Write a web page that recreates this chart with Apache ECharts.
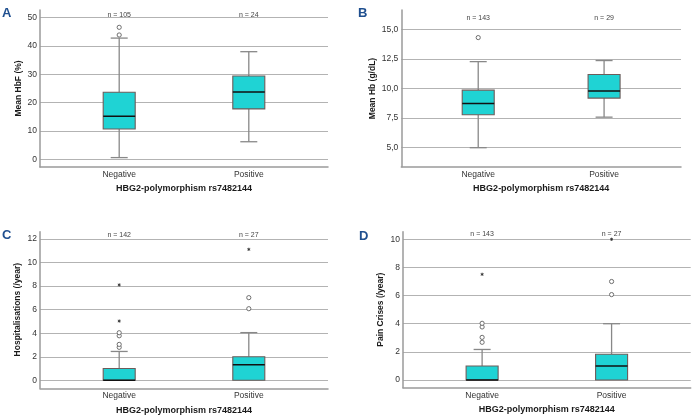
<!DOCTYPE html>
<html><head><meta charset="utf-8">
<script src="https://cdn.jsdelivr.net/npm/echarts@6/dist/echarts.min.js"></script>
<style>html,body{margin:0;padding:0;background:#fff}#c{width:696px;height:417px}</style>
</head><body><div id="c"></div>
<script>
// ---------- data ----------
var categories = ['Negative', 'Positive'];
var xAxisTitle = 'HBG2-polymorphism rs7482144';
// [min, Q1, median, Q3, max]
var hbfNeg = [0.6, 10.7, 15.2, 23.7, 42.8];
var hbfPos = [6.2, 17.8, 23.8, 29.4, 38.0];
var hbfNegCircles = [43.9, 46.6];
var hbfN = [105, 24];

var hbNeg = [5.0, 7.78, 8.73, 9.86, 12.27];
var hbPos = [7.58, 9.19, 9.78, 11.18, 12.36];
var hbNegCircles = [14.3];
var hbN = [143, 29];

var hospNeg = [0, 0, 0, 1.0, 2.45];
var hospPos = [0, 0, 1.33, 2.0, 4.05];
var hospNegCircles = [2.8, 3.05, 3.78, 4.04];
var hospNegStars = [5.03, 8.1];
var hospPosCircles = [6.08, 7.02];
var hospPosStars = [11.12];
var hospN = [142, 27];

var painNeg = [0, 0, 0, 1.0, 2.17];
var painPos = [0, 0, 1.0, 1.83, 4.0];
var painNegCircles = [2.68, 3.03, 3.77, 4.03];
var painNegStars = [7.51];
var painPosCircles = [6.07, 7.0];
var painPosStars = [10.0];
var painN = [143, 27];

var yTicksA = [0, 50, 10];
var yTicksB = [5, 15, 2.5];
var yTicksC = [0, 12, 2];
var yTicksD = [0, 10, 2];

// ---------- build ----------
var panels = [
  {letter:'A', yName:'Mean HbF (%)', boxes:[hbfNeg, hbfPos], circles:[hbfNegCircles, []], stars:[[],[]], n:hbfN, ticks:yTicksA, comma:false,
   frame:{left:40, top:10, width:288, height:157}, vTop:17.7, vBottom:159.3, nOff:3, nameGap:17, letterPos:[2,7]},
  {letter:'B', yName:'Mean Hb (g/dL)', boxes:[hbNeg, hbPos], circles:[hbNegCircles, []], stars:[[],[]], n:hbN, ticks:yTicksB, comma:true,
   frame:{left:401.3, top:10, width:279.7, height:156.7}, vTop:29.3, vBottom:147.7, nOff:11, nameGap:24, letterPos:[358,7]},
  {letter:'C', yName:'Hospitalisations (/year)', boxes:[hospNeg, hospPos], circles:[hospNegCircles, hospPosCircles], stars:[hospNegStars, hospPosStars], n:hospN, ticks:yTicksC, comma:false,
   frame:{left:40, top:231.7, width:288, height:156.6}, vTop:239, vBottom:380.3, nOff:3.7, nameGap:18, letterPos:[2,229]},
  {letter:'D', yName:'Pain Crises (/year)', boxes:[painNeg, painPos], circles:[painNegCircles, painPosCircles], stars:[painNegStars, painPosStars], n:painN, ticks:yTicksD, comma:false,
   frame:{left:403, top:231.7, width:287.7, height:156}, vTop:239.3, vBottom:380, nOff:5.3, nameGap:18, letterPos:[359,230]}
];

var FONT = 'Liberation Sans, Arial, sans-serif';
var grids = [], xAxes = [], yAxes = [], series = [], graphics = [];
var AX = '#9a9a9a';

panels.forEach(function (p, k) {
  var f = p.frame;
  var gF = k*3, gV = k*3+1, gL = k*3+2;
  grids.push({left:f.left, top:f.top, width:f.width, height:f.height});
  grids.push({left:f.left, top:p.vTop, width:f.width, height:p.vBottom - p.vTop});
  grids.push({left:f.left + 0.05*f.width, top:f.top, width:0.9*f.width, height:f.height});

  xAxes.push({gridIndex:gF, type:'value', min:0, max:1, axisLine:{show:true, lineStyle:{color:AX, width:1.5}}, axisTick:{show:false}, axisLabel:{show:false}, splitLine:{show:false}});
  yAxes.push({gridIndex:gF, type:'value', min:0, max:1, axisLine:{show:true, lineStyle:{color:AX, width:1.5}}, axisTick:{show:false}, axisLabel:{show:false}, splitLine:{show:false}});
  xAxes.push({gridIndex:gV, type:'value', min:-0.6111, max:1.6111, show:false});
  yAxes.push({gridIndex:gV, type:'value', min:p.ticks[0], max:p.ticks[1], interval:p.ticks[2],
    axisLine:{show:false}, axisTick:{show:false},
    axisLabel:{margin:3, fontFamily:FONT, fontSize:8.5, color:'#333',
      formatter: p.comma ? function(v){return v.toFixed(1).replace('.', ',');} : function(v){return String(v);}},
    splitLine:{show:true, lineStyle:{color:'#b3b3b3', width:1.2}},
    name:p.yName, nameLocation:'middle', nameGap:p.nameGap,
    nameTextStyle:{fontFamily:FONT, fontSize:8.5, fontWeight:'bold', color:'#1a1a1a'}});
  xAxes.push({gridIndex:gL, type:'category', data:categories, axisLine:{show:false}, axisTick:{show:false},
    axisLabel:{margin:3, fontFamily:FONT, fontSize:8.5, color:'#333'},
    name:xAxisTitle, nameLocation:'middle', nameGap:17.5,
    nameTextStyle:{fontFamily:FONT, fontSize:9, fontWeight:'bold', color:'#1a1a1a'}});
  yAxes.push({gridIndex:gL, type:'value', min:0, max:1, show:false});

  var xi = k*3+1, yi = k*3+1;
  series.push({type:'custom', xAxisIndex:xi, yAxisIndex:yi, z:3,
    data:p.boxes.map(function(b,i){return [i].concat(b);}),
    renderItem:function(params, api){
      var i = api.value(0);
      var pMin = api.coord([i, api.value(1)]), pQ1 = api.coord([i, api.value(2)]),
          pMed = api.coord([i, api.value(3)]), pQ3 = api.coord([i, api.value(4)]),
          pMax = api.coord([i, api.value(5)]);
      var x = pMed[0], hw = 16, cw = 8.5;
      var wl = {stroke:'#888', lineWidth:1.3};
      var ch = [];
      if (api.value(5) > api.value(4)) {
        ch.push({type:'line', shape:{x1:x, y1:pQ3[1], x2:x, y2:pMax[1]}, style:wl});
        ch.push({type:'line', shape:{x1:x-cw, y1:pMax[1], x2:x+cw, y2:pMax[1]}, style:wl});
      }
      if (api.value(1) < api.value(2)) {
        ch.push({type:'line', shape:{x1:x, y1:pQ1[1], x2:x, y2:pMin[1]}, style:wl});
        ch.push({type:'line', shape:{x1:x-cw, y1:pMin[1], x2:x+cw, y2:pMin[1]}, style:wl});
      }
      ch.push({type:'rect', shape:{x:x-hw, y:pQ3[1], width:2*hw, height:pQ1[1]-pQ3[1]},
        style:{fill:'#1fd3d4', stroke:'#6e5c5a', lineWidth:1.1}});
      ch.push({type:'line', shape:{x1:x-hw, y1:pMed[1], x2:x+hw, y2:pMed[1]}, style:{stroke:'#111', lineWidth:1.5}});
      return {type:'group', children:ch};
    }});
  var outData = [];
  p.circles.forEach(function(arr,i){arr.forEach(function(v){outData.push([i, v, 0]);});});
  p.stars.forEach(function(arr,i){arr.forEach(function(v){outData.push([i, v, 1]);});});
  series.push({type:'custom', xAxisIndex:xi, yAxisIndex:yi, z:4, data:outData,
    renderItem:function(params, api){
      var pt = api.coord([api.value(0), api.value(1)]);
      if (api.value(2) === 0) {
        return {type:'circle', shape:{cx:pt[0], cy:pt[1], r:2.1}, style:{fill:'#fff', stroke:'#6f6f6f', lineWidth:1}};
      }
      var s = 1.6, st = {stroke:'#333', lineWidth:0.9};
      return {type:'group', children:[
        {type:'line', shape:{x1:pt[0], y1:pt[1]-s, x2:pt[0], y2:pt[1]+s}, style:st},
        {type:'line', shape:{x1:pt[0]-s*0.87, y1:pt[1]-s*0.5, x2:pt[0]+s*0.87, y2:pt[1]+s*0.5}, style:st},
        {type:'line', shape:{x1:pt[0]-s*0.87, y1:pt[1]+s*0.5, x2:pt[0]+s*0.87, y2:pt[1]-s*0.5}, style:st}
      ]};
    }});
  var nOff = p.nOff;
  series.push({type:'custom', xAxisIndex:xi, yAxisIndex:yi, z:5,
    data:p.n.map(function(v,i){return [i, v];}),
    renderItem:function(params, api){
      var pt = api.coord([api.value(0), 0]);
      return {type:'text', x:pt[0], y:params.coordSys.y - nOff,
        style:{text:'n = ' + api.value(1), fill:'#444', font:'7px ' + FONT, align:'center', verticalAlign:'middle'}};
    }});
  graphics.push({type:'text', left:p.letterPos[0], top:p.letterPos[1],
    style:{text:p.letter, fill:'#1f4f8f', font:'bold 13px ' + FONT}});
});

var chart = echarts.init(document.getElementById('c'), null, {renderer:'canvas'});
chart.setOption({animation:false, backgroundColor:'#fff', grid:grids, xAxis:xAxes, yAxis:yAxes, series:series, graphic:graphics});
</script></body></html>
